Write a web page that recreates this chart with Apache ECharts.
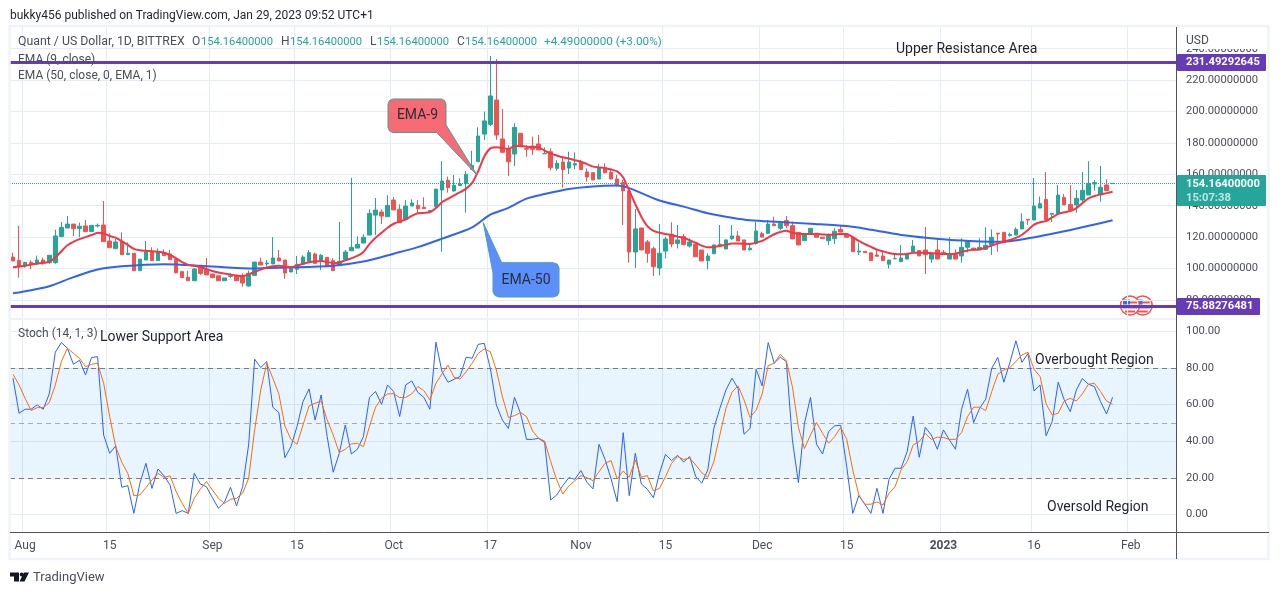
<!DOCTYPE html>
<html>
<head>
<meta charset="utf-8">
<title>Quant / US Dollar</title>
<script src="https://cdn.jsdelivr.net/npm/echarts@6/dist/echarts.min.js"></script>
<style>
  html, body { margin: 0; padding: 0; background: #fff; }
  #chart { width: 1280px; height: 595px; }
</style>
</head>
<body>
<div id="chart"></div>
<script>
// candles, one value per bar
var opens = [107.3,105.2,101.6,103.9,103,105.4,103.7,103.7,120.3,125.8,128.3,125.4,127.1,123.5,127.1,127.7,117.5,112.8,117.1,108.8,
  109.7,98.6,105.4,110.7,105,110,109.2,105.8,98,94.4,92.2,101.2,99.7,96.5,95.4,92.2,95,95.6,95.6,88.9,
  95.6,104.1,102.9,102.9,106.7,105.4,97.8,99.5,102.7,104.6,109.2,104.5,107.1,105,101.8,105.8,111.3,113,116.2,121.3,
  134,136,133,143.6,137.7,131.3,139.8,140.2,139,136,139.4,150,156.2,149.4,152.8,154,163.1,168,185.6,191.8,
  207.3,182.5,175.9,172.9,186.1,176.5,178,179.3,173.1,174.4,163.8,167.8,164,165.9,167.6,161.5,161,157,164.4,161.2,
  157,154.7,149.4,110.5,125.8,116.9,112.6,100.3,111.1,121.8,116,120.3,114.3,115.6,111.8,105,109.4,114.6,112.4,119,
  120.7,118.2,112,116,122.2,122.4,128.3,125.6,130.5,127.3,123,117.7,122.4,122.4,119.9,117.7,119,124.9,122,119.9,
  110.5,110.9,110,108.6,108,102.7,106.2,104.4,106,110.7,111.4,111.8,106,111.8,110.3,106,109,108,113.5,113,
  111.8,112.2,115,122.5,123,121,121.3,125.2,131.3,130.9,138.5,144,134.5,135.1,145.3,140.8,140.5,143.6,146.8,153.8,
  147,153.2,154.164];
var closes = [104.8,101.6,103.9,103.1,105.4,103.3,108.4,120.7,126.2,128.3,125.4,126.9,123.5,127.5,127.5,117.1,113.3,116.9,108.8,109.7,
  98.6,106,110.7,105,110.3,108.2,105.6,97.3,94.2,92.2,99.7,96.9,95.9,94.2,92.2,94,95.4,92.2,90.8,96.9,
  104.1,102.2,103.5,106.7,104.8,97.1,100.1,102.7,107.3,110.1,103.3,108.4,102,98.6,104.6,110.5,113.5,115.4,119.9,135.1,
  137.2,133.4,140.2,137.3,129.2,139.8,141.7,138.1,138.1,137,150.6,155.7,151.5,153,153.8,160,165.7,184.4,194,209.9,
  185,174,168,189.9,177.6,175.9,175.9,175.5,173.2,164.2,167,163,167.8,166.8,163,158.3,156.4,163.8,161,157,
  152.8,149.4,110.5,125.2,111.8,109.7,101.2,109.7,118.8,115.6,118.2,115.2,116.9,107.5,104.8,108,115,115.5,118.2,120.7,
  117.5,111.8,112.9,123.9,120,128.3,127.3,128.8,127.3,118.8,115,121.3,125.6,119.9,119,120.9,123.7,123.2,119.9,110.7,
  111.1,110.1,105,107.8,105,105.4,106.3,106.7,109,114.3,108,108.8,109.2,106,109.2,109,106,113.5,117,112.2,
  113.5,114.8,119.9,122,116.5,121.7,124.9,129.8,130.9,139.8,141.3,130.9,135.1,146.8,140.5,137.3,144.7,149.8,154.2,154.7,
  151.7,149.67,154.164];
var highs = [110.1,127.1,104.2,105.2,108.2,106.9,108.6,124.7,129.6,133.4,128.3,129.2,130.9,127.5,128.6,143,122.4,118.8,123,116.5,
  109.7,106,117.5,113.5,112.8,112.2,111.8,105.8,98,98.6,100.1,102.2,106.7,96.5,95.4,94,96.9,95.6,96.9,98.6,
  104.1,106.9,105.4,120,111.8,105.4,101.2,108,108.4,111.8,110.1,109.2,107.1,106.5,129.6,111.8,157.7,120.5,121.8,137.7,
  144.9,137.7,146.6,145.5,140.8,143.6,144,143.6,145.3,137,150.6,168.3,158.5,159.6,157.4,162.1,175,189.9,199.9,235.4,
  233.4,201.6,178.6,192.5,186.1,178.6,184,185,177.2,176.5,169,170.8,174.4,174,169.2,163.8,161,166.6,167,163.8,
  159.6,156.4,150,137.9,125.8,118.2,113.9,128.3,120.3,129.4,127.7,122,119.2,115.6,111.8,109.7,115,127.7,118.2,127.7,
  123.9,118.2,115.2,129.8,123.4,130.9,133,130.3,133.4,129.8,123,122.4,125.6,122.4,119.9,122.4,125.6,127,122.4,119.9,
  116.5,110.9,110,111.8,111.8,105.4,109.5,115,109.6,118.2,111.4,126.4,109.6,119.2,111.8,119.9,112.2,119.2,117,113,
  119.2,126.2,124.9,122.5,123,122.8,126.2,135.1,131.3,157.6,145.8,161.5,135.1,153.2,147.4,153.2,150,161.5,168.3,156.4,
  165.3,156.8,154.164];
var lows = [104.8,94.2,100.5,99.5,102.2,102.5,103,103,120,125.8,120.7,119.9,123.5,123.5,126.2,117.1,113.3,112.2,108.8,108.6,
  98.6,98.6,105.4,105,105,108.2,105.6,96.9,94.2,92.2,92.2,95.9,95.9,93.8,92.2,92.2,94,92.2,88.4,88.4,
  95.4,102.2,101.2,102.9,104.8,93.5,97.8,96.5,102.2,104.6,102.9,99,102,98.6,101.8,105.8,111.3,113,116.2,121.3,
  121.3,128.3,133,137.3,129.2,131.3,139.8,135.1,138.1,136,139.4,110.7,148.3,149,152.5,135.6,163.1,168,181.9,190.8,
  181.9,174,158.9,165.3,177.2,171.2,172.3,175.5,173.1,162.7,162.3,151.5,160.2,163.2,163,155.3,156.4,157,160.6,157,
  152.1,127.7,103.7,100.3,111.8,103.7,95.2,95.6,106.5,113.5,112.8,115.2,113.4,107.5,104.8,99.5,109.4,114.2,112.4,118.2,
  117.5,111.8,111.4,115.2,120,122.4,127.3,124.6,125.7,118.8,115,117.7,122.4,119.9,119,115,115.6,123.2,119.9,110.7,
  108.6,110.1,105,107.6,105,100,106,104.4,106,110.7,108,96.5,103.7,106,109.2,106,106,103.7,110.3,112.2,
  111.8,111.8,108.6,110.7,116.5,120.3,121.3,125.2,127.7,130.9,138.5,130.5,129.6,135.1,140.5,137.3,135.6,141,146.8,149.6,
  142.6,149.67,154.164];

// moving averages
var ema9 = [100.8,101.2,101.8,102.5,103.1,103.6,104.3,107,111,114.8,117,118.7,120,121.3,122.8,122.3,120.7,119.6,117.4,115,
  112.5,111.6,111.3,111,110.6,110,108.6,106.5,104,102.3,101.8,101,99.6,98.4,97.5,96.8,96.2,95.5,95.1,96.3,
  97.8,99.3,100.6,101.5,101.8,101.2,100.8,101.8,103,104,104.5,104.7,104.2,103.4,103.8,105.2,106.5,108,110.5,115.5,
  119.6,122.7,126,128.5,130,131.2,133.5,135.2,135.4,135.8,138.5,142.2,144.4,146.5,148.6,150.9,154.5,162,171.3,176.5,
  177.3,176.8,176,178.2,178,177.6,177.4,177.3,175,173.2,172,170.8,170,169,168,166.5,164.9,164.4,163.9,163,
  161.9,158,149.5,141,133,127,124,122.8,122,121.2,120.3,119.6,118,116.4,114.6,113.5,113.7,114.3,115.1,116,
  116,115.7,115.6,116.5,117.6,119.7,121.8,123.2,124,122.8,122.2,121.9,122,122,121.7,121.4,121.6,122,122,120,
  117.6,115.5,113.8,112,110.9,109.9,109.2,109,109.3,110,110,110,109.8,109.6,109.2,109.2,109.4,110.5,111.5,111.9,
  112.2,113.2,114.6,116,117,118.2,119.5,121.5,124.5,128,129.5,130.2,132.5,134.8,135.8,136.6,138.5,141.5,144.7,146.2,
  147.2,148,148.9];
var ema50Bars = [0,3,6,10,14,18,25,31,39,45,53,58,63,67,71,76,79,82,85,88,92,95,100,102,107,111,115,119,122,127,132,138,142,147,152,156,163,168,174,182];
var ema50Read = [84.2,86.2,88.7,94.5,99.4,101.4,102.7,101.8,100,100.6,101.8,104.4,109.4,113.6,119,126.2,134.3,138.6,144.5,147.4,
  150.6,151.9,152.8,151.2,143.3,139.4,135.2,132.3,130.7,129.6,128.5,127,124.7,121.4,119.3,118,117,119.2,123.7,130.7];

// stochastic
var stochK = [74.5,55.3,57.5,57.5,59.9,57.5,65.9,88.7,94,90.9,82.1,84.3,76.3,85.8,86.3,43.4,33.4,37.4,14.8,15.7,
  0.5,17,27.9,14.2,24.8,21,16,0.5,2,0.5,22.4,16.6,15.1,9.1,3.3,6.6,14.8,4.6,15.1,38,
  84.9,80.3,83.6,58.6,55.7,31,37,48,61.7,68.6,51.6,65.3,42.5,23,33.4,48.9,33,35.6,42.5,64,
  67.2,60.2,70.8,67.2,53.5,70.8,73,66.8,64,57.5,94.2,78.1,72.3,73.9,75.4,86,85.4,93,93.6,79.9,
  59.9,51.6,47,64,55.3,41,41,41.6,39.2,7.8,10.6,15.7,20,19.2,23.9,17.5,13.9,38.3,30,19.3,
  6.9,44.7,10.2,33.4,16.6,13.7,9.1,22.4,32.8,29.4,32.3,28.6,31.6,20.6,17,24.3,47,58,68,74.5,
  69,43.8,47,79.4,70.3,94,82.7,86,83.6,40.7,17.3,49.8,64,38.3,33,45.3,48.4,48.7,26,0.5,
  10.2,5.5,0.5,14.2,0.5,19.2,25.2,25.2,34.3,53.8,31.2,47.6,43.4,35.6,46.2,40.7,35.6,57.5,68.4,50.2,
  58,63,79.9,85.9,72.3,83,95,83.2,88,67.5,70.8,43,50.7,72.3,62.6,56.2,68,74.3,71.2,69.9,
  61.7,54.9,64];
var stochD = [76.6,70.8,63.5,56.8,58.4,58.4,61.1,70.8,83.6,90.9,88.1,85.4,80.8,82.1,82.7,71.7,53.5,37,28.5,22.4,
  10.2,10.6,14.6,18.8,22.4,20.3,21,12.4,6,0.5,8.8,13.7,17.9,13.3,8.8,6,8.2,8.8,11.5,19.7,
  46.2,68,82.7,74.5,65.9,48.4,41,38.3,48.9,59.3,60.8,62,51.6,43.4,33.8,35.6,38.5,38.9,37,48,
  58.6,63.5,65.9,66,63.9,64,65.9,69.9,67.7,62.6,71.7,76.8,81.6,75,74,78,82.7,88.1,90.5,89,
  79,64.4,53,54,55.7,53.5,45.6,41.6,40.1,28.8,18.8,11.1,15.5,18.4,21.2,20,18.4,23.4,27.9,29.4,
  19.3,23.7,20.3,29.7,20.3,21.2,12.8,14.2,20.6,27.9,31.6,30,30.8,27,22.8,20.3,28.8,43.4,58,66.8,
  70.3,62.6,53,57,65.9,81.4,82.7,87.6,84.1,69.9,47.6,36,43.4,50.2,44.3,38.9,42.5,47.6,41,24.3,
  10.6,5.5,5.5,6.8,5.1,11.5,15.1,24.3,28.8,38,39.8,44.3,41,42.2,42,41,41,44.7,53.5,58.6,
  58.6,56.8,67.2,76.6,79,80.3,83.6,87.2,88.7,79.4,75.4,60.4,54.4,55.3,62,63.5,62,65.9,71.2,71.7,
  67.2,62,60.2];

// levels and ticks
var resistance = 231.49292645;
var support = 75.88276481;
var lastPrice = 154.164;
var priceTicks = [80,100,120,140,160,180,200,220,240];
var stochTicks = [0,20,40,60,80,100];
var tickDates = ['2022-08-01','2022-08-15','2022-09-01','2022-09-15','2022-10-01','2022-10-17','2022-11-01','2022-11-15','2022-12-01','2022-12-15','2023-01-01','2023-01-16','2023-02-01'];
var tickLabels = ['Aug','15','Sep','15','Oct','17','Nov','15','Dec','15','2023','16','Feb'];

// daily slots from Jul 30, one day has no bar on this chart
var days = [];
var d = Date.UTC(2022, 6, 30);
while (days.length < 193) {
    var s = new Date(d).toISOString().slice(0, 10);
    if (s !== '2022-12-24') days.push(s);
    d += 86400000;
}

var FONT = 'Roboto, sans-serif';
var TEXT = '#4a4e59';
var DARK = '#1e222d';
var TEAL = '#26a69a';
var RED = '#ef5350';
var PURPLE = '#673ab7';
var GRID = '#e4edf4';
var NUM = 11.2; // digits run narrow in the original

function label(x, y, text, fill, size, weight, align) {
    return {
        type: 'text', x: x, y: y + 1, z: 60, silent: true,
        style: {
            text: text, fill: fill, align: align || 'left', verticalAlign: 'middle',
            font: (weight || 'normal') + ' ' + (size || 12) + 'px ' + FONT
        }
    };
}
function box(x, y, w, h, fill, z) {
    return { type: 'rect', z: z || 55, silent: true, shape: { x: x, y: y, width: w, height: h, r: 1 }, style: { fill: fill } };
}
function flag(cx, cy) {
    return { type: 'group', z: 58, silent: true, children: [
        { type: 'circle', shape: { cx: cx, cy: cy, r: 9.5 }, style: { fill: '#fff', stroke: RED, lineWidth: 1.5 } },
        { type: 'rect', shape: { x: cx - 7, y: cy - 6, width: 7, height: 5 }, style: { fill: '#3f6fd8' } },
        { type: 'rect', shape: { x: cx, y: cy - 4, width: 7, height: 2 }, style: { fill: RED } },
        { type: 'rect', shape: { x: cx - 7, y: cy + 1, width: 14, height: 2 }, style: { fill: RED } },
        { type: 'rect', shape: { x: cx - 5, y: cy + 5, width: 10, height: 2 }, style: { fill: RED } }
    ] };
}

var xLabelFmt = function (value) {
    var k = tickDates.indexOf(value);
    if (k < 0) return '';
    return tickLabels[k] === '2023' ? '{b|2023}' : tickLabels[k];
};
var xTickShown = function (index, value) {
    return tickDates.indexOf(value) >= 0;
};

var graphics = [
    // frame
    { type: 'rect', z: 50, silent: true, shape: { x: 9.5, y: 26, width: 1259, height: 533 }, style: { fill: 'none', stroke: '#f0f3fa', lineWidth: 2.5 } },
    { type: 'line', z: 50, silent: true, shape: { x1: 10, y1: 319, x2: 1176, y2: 319 }, style: { stroke: '#eef1f7', lineWidth: 2 } },
    { type: 'line', z: 51, silent: true, shape: { x1: 10, y1: 532.5, x2: 1269, y2: 532.5 }, style: { stroke: '#50535e', lineWidth: 1 } },
    { type: 'line', z: 51, silent: true, shape: { x1: 1176.5, y1: 27, x2: 1176.5, y2: 559 }, style: { stroke: '#50535e', lineWidth: 1 } },

    label(10, 15, 'bukky456 published on TradingView.com, Jan 29, 2023 09:52 UTC+1', DARK, 12),
    label(18, 41, 'Quant / US Dollar, 1D, BITTREX', TEXT, 12.3),
    label(192, 41, 'O', TEXT, 12), label(201, 41, '154.16400000', TEAL, NUM),
    label(281, 41, 'H', TEXT, 12), label(290, 41, '154.16400000', TEAL, NUM),
    label(370, 41, 'L', TEXT, 12), label(377, 41, '154.16400000', TEAL, NUM),
    label(457, 41, 'C', TEXT, 12), label(465, 41, '154.16400000', TEAL, NUM),
    label(544, 41, '+4.49000000 (+3.00%)', TEAL, 11.7),
    label(18, 59, 'EMA (9, close)', TEXT, 12),
    label(18, 75, 'EMA (50, close, 0, EMA, 1)', TEXT, 12),
    label(18, 333, 'Stoch (14, 1, 3)', TEXT, 12),
    box(1178, 29, 88, 20, '#fff', 53),
    label(1186, 40, 'USD', TEXT, 12),

    // drawings on the chart
    label(896, 48.5, 'Upper Resistance Area', DARK, 14),
    label(100, 336, 'Lower Support Area', DARK, 14),
    label(1035, 359.5, 'Overbought Region', DARK, 14),
    label(1047, 506.5, 'Oversold Region', DARK, 14),
    { type: 'polygon', z: 52, silent: true, shape: { points: [[393,99],[441,99],[444.5,100.5],[446,104],[446,125],[477,175],[436.7,132.5],[393,132.5],[389.5,131],[388,127.5],[388,104],[389.5,100.5]] },
      style: { fill: '#f66b74', stroke: '#4a9c9c', lineWidth: 1 } },
    label(417.5, 114.5, 'EMA-9', '#2a2e39', 14, 'normal', 'center'),
    { type: 'polygon', z: 52, silent: true, shape: { points: [[493,273],[483.3,222.7],[501.7,262.7],[553,262.7],[557.5,264.2],[559,268],[559,292],[557.5,295.5],[553,297],[499,297],[495,295.5],[493,292]] },
      style: { fill: '#5b8ffa', stroke: '#4a9cc0', lineWidth: 1 } },
    label(526, 279, 'EMA-50', '#2a2e39', 14, 'normal', 'center'),

    flag(1142.7, 305.5),
    flag(1130, 305.5),

    // price tags
    box(1177, 54, 89, 17, PURPLE),
    label(1186, 61.5, '231.49292645', '#fff', NUM, 'bold'),
    box(1177, 298, 83, 17, PURPLE),
    label(1186, 305.5, '75.88276481', '#fff', NUM, 'bold'),
    box(1177, 175, 89, 31, TEAL),
    label(1186, 183, '154.16400000', '#fff', NUM, 'bold'),
    label(1186, 197, '15:07:38', 'rgba(255,255,255,0.7)', NUM, 'bold'),

    // logo
    { type: 'polygon', z: 52, silent: true, shape: { points: [[10,572.5],[19,572.5],[19,581.5],[14,581.5],[14,576.5],[10,576.5]] }, style: { fill: '#131722' } },
    { type: 'circle', z: 52, silent: true, shape: { cx: 21.7, cy: 574.6, r: 2 }, style: { fill: '#131722' } },
    { type: 'polygon', z: 52, silent: true, shape: { points: [[29,572.5],[24.5,581.5],[19.5,581.5],[24,572.5]] }, style: { fill: '#131722' } },
    label(33, 577, 'TradingView', TEXT, 13)
];

var myChart = echarts.init(document.getElementById('chart'), null, { renderer: 'canvas' });
var option = {
    animation: false,
    backgroundColor: '#fff',
    graphic: graphics,
    grid: [
        { left: 10, width: 1166, top: 27, height: 291 },
        { left: 10, width: 1166, top: 320, height: 212 }
    ],
    xAxis: [
        {
            type: 'category', gridIndex: 0, data: days, boundaryGap: true,
            axisLine: { show: false }, axisTick: { show: false }, axisLabel: { show: false, interval: xTickShown },
            splitLine: { show: true, interval: xTickShown, lineStyle: { color: GRID } }
        },
        {
            type: 'category', gridIndex: 1, data: days, boundaryGap: true,
            axisLine: { show: false }, axisTick: { show: false },
            axisLabel: {
                interval: xTickShown, formatter: xLabelFmt, color: TEXT, fontFamily: FONT, fontSize: 12, margin: 8,
                rich: { b: { fontWeight: 'bold', color: TEXT, fontFamily: FONT, fontSize: 12 } }
            },
            splitLine: { show: true, interval: xTickShown, lineStyle: { color: GRID } }
        }
    ],
    yAxis: [
        {
            type: 'value', gridIndex: 0, position: 'right', scale: true, min: 68.47, max: 253.82,
            axisLine: { show: false },
            axisTick: { show: false, customValues: priceTicks },
            axisLabel: {
                customValues: priceTicks, margin: 10, color: TEXT, fontFamily: FONT, fontSize: NUM, padding: [2, 0, 0, 0],
                formatter: function (v) { return v.toFixed(8); }
            },
            splitLine: { show: true, lineStyle: { color: GRID } }
        },
        {
            type: 'value', gridIndex: 1, position: 'right', min: -9.69, max: 106.35,
            axisLine: { show: false },
            axisTick: { show: false, customValues: stochTicks },
            axisLabel: {
                customValues: stochTicks, margin: 10, color: TEXT, fontFamily: FONT, fontSize: NUM, padding: [2, 0, 0, 0],
                formatter: function (v) { return v.toFixed(2); }
            },
            splitLine: { show: true, lineStyle: { color: GRID } }
        }
    ],
    series: [
        {
            name: 'Quant / US Dollar',
            type: 'candlestick',
            xAxisIndex: 0, yAxisIndex: 0,
            barWidth: 4,
            itemStyle: { color: TEAL, color0: RED, borderColor: TEAL, borderColor0: RED, borderWidth: 1 },
            data: opens.map(function (o, i) { return [o, closes[i], lows[i], highs[i]]; }),
            markLine: {
                silent: true, symbol: 'none', label: { show: false }, animation: false,
                data: [
                    { yAxis: lastPrice, lineStyle: { color: TEAL, type: 'dotted', width: 1 } },
                    { yAxis: resistance, lineStyle: { color: PURPLE, type: 'solid', width: 3 } },
                    { yAxis: support, lineStyle: { color: PURPLE, type: 'solid', width: 3 } }
                ]
            }
        },
        {
            name: 'EMA (50)', type: 'line', xAxisIndex: 0, yAxisIndex: 0, showSymbol: false, smooth: 0.3,
            lineStyle: { color: '#2f63f5', width: 2 },
            data: ema50Bars.map(function (b, k) { return [days[b], ema50Read[k]]; }),
            z: 4
        },
        {
            name: 'EMA (9)', type: 'line', xAxisIndex: 0, yAxisIndex: 0, showSymbol: false, smooth: 0.2,
            lineStyle: { color: '#f23645', width: 2 },
            data: ema9,
            z: 5
        },
        {
            name: '%K', type: 'line', xAxisIndex: 1, yAxisIndex: 1, showSymbol: false,
            lineStyle: { color: '#2962ff', width: 1 },
            data: stochK,
            z: 4,
            markArea: {
                silent: true, itemStyle: { color: 'rgba(33,150,243,0.1)' },
                data: [[{ yAxis: 20 }, { yAxis: 80 }]]
            },
            markLine: {
                silent: true, symbol: 'none', label: { show: false }, animation: false,
                data: [
                    { yAxis: 80, lineStyle: { color: '#787b86', type: [5, 4], width: 1 } },
                    { yAxis: 50, lineStyle: { color: 'rgba(120,123,134,0.6)', type: [5, 4], width: 1 } },
                    { yAxis: 20, lineStyle: { color: '#787b86', type: [5, 4], width: 1 } }
                ]
            }
        },
        {
            name: '%D', type: 'line', xAxisIndex: 1, yAxisIndex: 1, showSymbol: false,
            lineStyle: { color: '#ff6d00', width: 1 },
            data: stochD,
            z: 5
        }
    ]
};
myChart.setOption(option);
</script>
</body>
</html>
